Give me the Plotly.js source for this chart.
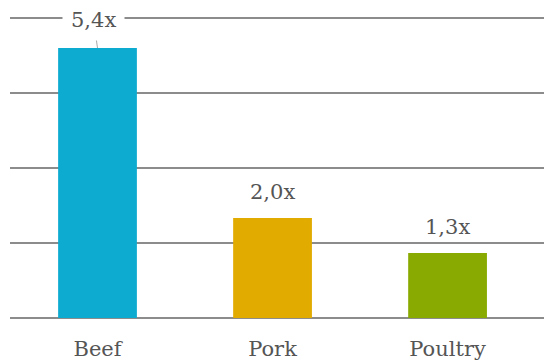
<!DOCTYPE html>
<html><head><meta charset="utf-8">
<script src="https://cdn.plot.ly/plotly-3.0.1.min.js"></script>
<style>html,body{margin:0;padding:0;background:#fff}</style>
</head><body><div id="chart" style="width:544px;height:362px"></div>
<script>
const categories = ["Beef", "Pork", "Poultry"];
const values = [5.4, 2.0, 1.3];
const colors = ["#0eabd1", "#e2ab00", "#89aa00"];

const labels = values.map(v => v.toFixed(1).replace('.', ',') + 'x');
const font = "DejaVu Serif, Georgia, serif";

const annotations = categories.map((c, i) => {
  if (i === 0) {
    return {x: c, y: values[i], xref: 'x', yref: 'y', text: labels[i], showarrow: true,
      arrowhead: 0, arrowwidth: 1, arrowcolor: '#aaaaaa', ax: -4, ay: -28, bgcolor: '#ffffff',
      borderpad: 8, font: {family: font, size: 21, color: '#555555'}};
  }
  return {x: c, y: values[i], xref: 'x', yref: 'y', text: labels[i], showarrow: false,
    yanchor: 'bottom', yshift: 12, font: {family: font, size: 21, color: '#555555'}};
});

Plotly.newPlot('chart', [{
  type: 'bar', x: categories, y: values, marker: {color: colors}, width: 0.45,
  hoverinfo: 'none'
}], {
  width: 544, height: 362,
  margin: {l: 10, r: 0, t: 13, b: 44},
  paper_bgcolor: '#fff', plot_bgcolor: '#fff',
  showlegend: false,
  xaxis: {range: [-0.5, 2.551], showgrid: false, zeroline: false, showline: false,
    ticks: 'outside', ticklen: 12, tickcolor: 'rgba(0,0,0,0)',
    tickfont: {family: font, size: 21, color: '#555555'}, fixedrange: true},
  yaxis: {range: [0, 6.1], dtick: 1.5, tick0: 0, showticklabels: false, showgrid: true,
    gridcolor: '#8c8c8c', gridwidth: 2, zeroline: true, zerolinecolor: '#8c8c8c', zerolinewidth: 2,
    showline: false, fixedrange: true},
  annotations: annotations
}, {staticPlot: true});
</script></body></html>
